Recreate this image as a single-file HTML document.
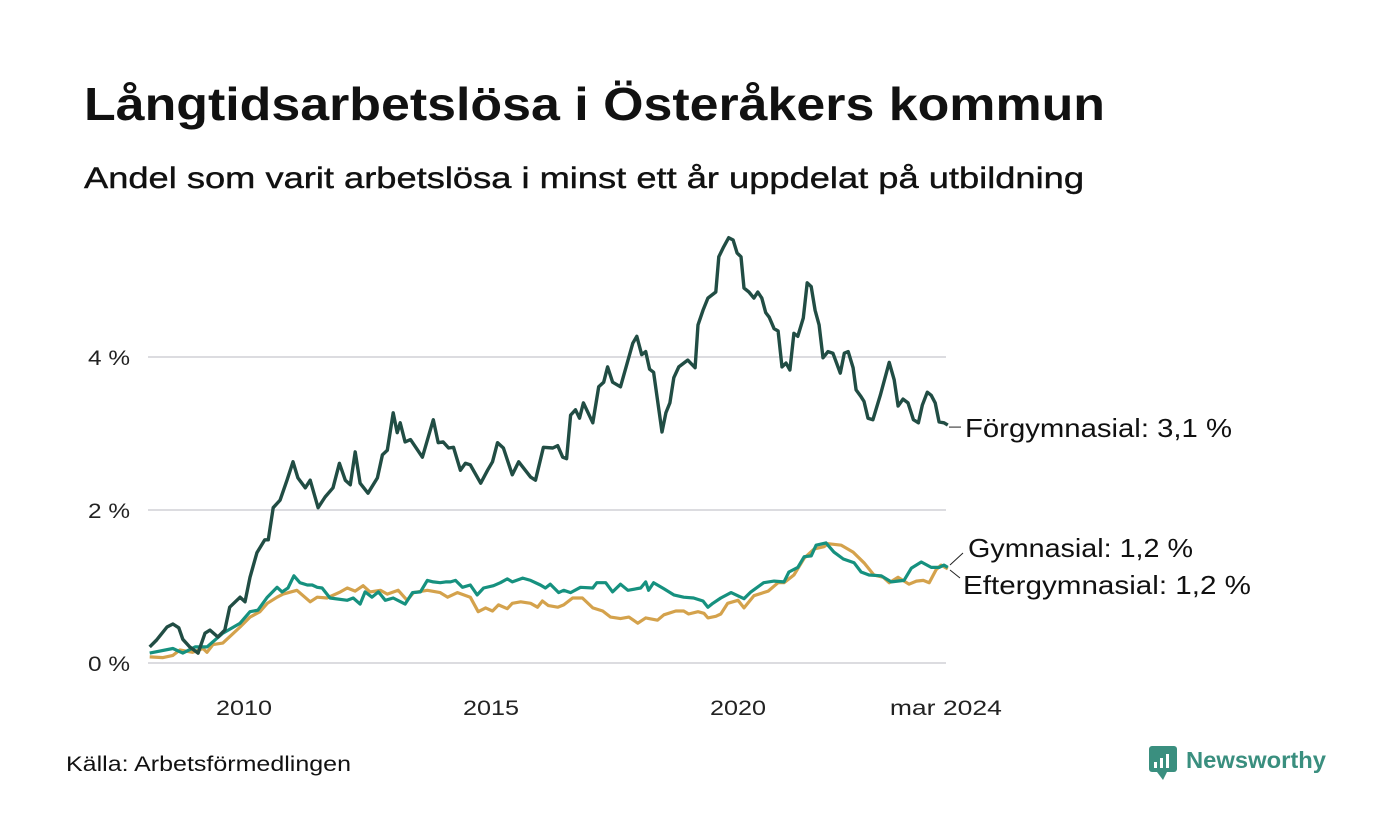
<!DOCTYPE html>
<html><head><meta charset="utf-8"><style>
html,body{margin:0;padding:0;background:#fff;}
svg{display:block;font-family:"Liberation Sans",sans-serif;}
</style></head><body>
<svg id="chart" width="1400" height="840" viewBox="0 0 1400 840">
<text x="84" y="120" font-size="46" font-weight="bold" fill="#111" textLength="1021" lengthAdjust="spacingAndGlyphs">Långtidsarbetslösa i Österåkers kommun</text>
<text x="84" y="188" font-size="30" fill="#111" stroke="#111" stroke-width="0.4" textLength="1000" lengthAdjust="spacingAndGlyphs">Andel som varit arbetslösa i minst ett år uppdelat på utbildning</text>
<g id="grid"></g>
<g id="yticks"></g>
<g id="xticks"></g>
<g id="lines"></g>
<g id="labels"></g>
<text x="66" y="771" font-size="21" fill="#111" textLength="285" lengthAdjust="spacingAndGlyphs">Källa: Arbetsförmedlingen</text>
<g>
<rect x="1149" y="746" width="28" height="26" rx="3" fill="#3a8f7f"/>
<path d="M1157 772 L1163 780 L1167 772 Z" fill="#3a8f7f"/>
<rect x="1154" y="762" width="3" height="6" fill="#fff"/><rect x="1160" y="758" width="3" height="10" fill="#fff"/><rect x="1166" y="754" width="3" height="14" fill="#fff"/>
<text x="1186" y="768" font-size="23" font-weight="bold" fill="#3a8f7f" textLength="140" lengthAdjust="spacingAndGlyphs">Newsworthy</text>
</g>
</svg>
<script>
const yTicks=[0,2,4];
const yTickLabels=["0 %","2 %","4 %"];
const xTicks=[2010,2015,2020,2024.167];
const xTickLabels=["2010","2015","2020","mar 2024"];
const forgDates=[2008.01,2008.15,2008.36,2008.48,2008.60,2008.68,2008.82,2008.99,2009.13,2009.23,2009.39,2009.53,2009.63,2009.84,2009.94,2010.04,2010.18,2010.34,2010.41,2010.51,2010.65,2010.79,2010.91,2011.01,2011.16,2011.26,2011.42,2011.56,2011.72,2011.85,2011.97,2012.07,2012.17,2012.27,2012.43,2012.62,2012.72,2012.82,2012.94,2013.02,2013.08,2013.18,2013.29,2013.53,2013.75,2013.85,2013.95,2014.06,2014.16,2014.30,2014.40,2014.50,2014.71,2014.85,2014.95,2015.05,2015.17,2015.35,2015.48,2015.72,2015.82,2015.98,2016.17,2016.27,2016.37,2016.45,2016.53,2016.63,2016.71,2016.79,2016.98,2017.10,2017.20,2017.28,2017.38,2017.54,2017.79,2017.87,2017.97,2018.05,2018.13,2018.21,2018.38,2018.46,2018.54,2018.62,2018.72,2018.90,2019.05,2019.11,2019.21,2019.31,2019.47,2019.53,2019.63,2019.73,2019.82,2019.90,2019.98,2020.04,2020.14,2020.24,2020.32,2020.40,2020.48,2020.55,2020.65,2020.73,2020.81,2020.89,2020.97,2021.05,2021.13,2021.24,2021.32,2021.40,2021.48,2021.56,2021.64,2021.74,2021.84,2021.99,2022.07,2022.15,2022.25,2022.31,2022.41,2022.47,2022.55,2022.65,2022.80,2022.98,2023.08,2023.16,2023.26,2023.36,2023.47,2023.57,2023.65,2023.75,2023.83,2023.91,2023.99,2024.09,2024.167];
const forgValues=[0.21,0.30,0.47,0.51,0.46,0.31,0.21,0.13,0.39,0.43,0.34,0.43,0.73,0.86,0.80,1.12,1.44,1.61,1.61,2.03,2.13,2.39,2.63,2.42,2.29,2.39,2.03,2.17,2.29,2.61,2.39,2.33,2.76,2.35,2.22,2.42,2.72,2.78,3.27,3.01,3.14,2.89,2.92,2.69,3.18,2.88,2.89,2.81,2.82,2.52,2.61,2.59,2.35,2.52,2.63,2.88,2.81,2.46,2.63,2.43,2.39,2.82,2.81,2.84,2.69,2.67,3.24,3.31,3.20,3.40,3.14,3.61,3.67,3.87,3.67,3.61,4.18,4.27,4.03,4.07,3.84,3.80,3.02,3.27,3.40,3.73,3.87,3.96,3.86,4.42,4.61,4.77,4.85,5.31,5.44,5.56,5.53,5.36,5.31,4.90,4.85,4.77,4.85,4.77,4.58,4.52,4.37,4.34,3.87,3.92,3.83,4.31,4.27,4.51,4.97,4.92,4.61,4.42,3.99,4.07,4.05,3.79,4.05,4.07,3.86,3.57,3.48,3.42,3.20,3.18,3.50,3.93,3.70,3.36,3.45,3.40,3.18,3.14,3.37,3.54,3.50,3.40,3.15,3.14,3.11];
const gymDates=[2008.01,2008.48,2008.68,2008.93,2009.17,2009.49,2009.84,2010.04,2010.20,2010.39,2010.59,2010.69,2010.81,2010.93,2011.05,2011.20,2011.30,2011.40,2011.50,2011.66,2012.01,2012.13,2012.27,2012.37,2012.51,2012.64,2012.78,2012.94,2013.18,2013.33,2013.49,2013.63,2013.75,2013.89,2014.00,2014.10,2014.20,2014.34,2014.50,2014.64,2014.77,2014.97,2015.11,2015.25,2015.35,2015.56,2015.72,2015.92,2016.02,2016.12,2016.29,2016.39,2016.53,2016.73,2016.98,2017.06,2017.24,2017.38,2017.54,2017.69,2017.95,2018.05,2018.11,2018.21,2018.42,2018.62,2018.82,2019.02,2019.21,2019.31,2019.41,2019.57,2019.78,2020.04,2020.18,2020.44,2020.65,2020.85,2020.95,2021.13,2021.26,2021.40,2021.50,2021.70,2021.86,2022.05,2022.27,2022.41,2022.57,2022.82,2023.02,2023.28,2023.43,2023.63,2023.83,2023.99,2024.09,2024.167];
const gymValues=[0.13,0.19,0.13,0.21,0.21,0.39,0.52,0.67,0.69,0.86,0.99,0.93,0.98,1.14,1.05,1.02,1.02,0.99,0.98,0.85,0.82,0.85,0.77,0.93,0.86,0.93,0.82,0.85,0.77,0.92,0.93,1.08,1.06,1.05,1.06,1.06,1.08,0.99,1.02,0.89,0.98,1.01,1.05,1.10,1.06,1.11,1.08,1.02,0.98,1.03,0.92,0.95,0.92,0.99,0.98,1.05,1.05,0.93,1.03,0.95,0.98,1.06,0.95,1.05,0.97,0.89,0.86,0.85,0.81,0.73,0.78,0.85,0.92,0.84,0.93,1.05,1.07,1.06,1.19,1.25,1.39,1.40,1.54,1.57,1.45,1.36,1.31,1.19,1.15,1.14,1.06,1.08,1.24,1.32,1.25,1.25,1.28,1.25];
const eftDates=[2008.01,2008.28,2008.48,2008.62,2008.88,2009.09,2009.17,2009.29,2009.49,2009.84,2010.04,2010.24,2010.39,2010.59,2010.71,2010.99,2011.26,2011.40,2011.60,2011.87,2012.01,2012.17,2012.33,2012.47,2012.68,2012.82,2013.04,2013.22,2013.35,2013.63,2013.89,2014.04,2014.24,2014.50,2014.66,2014.81,2014.95,2015.07,2015.25,2015.35,2015.52,2015.72,2015.86,2015.96,2016.08,2016.27,2016.39,2016.57,2016.77,2016.98,2017.18,2017.34,2017.54,2017.71,2017.89,2018.05,2018.29,2018.42,2018.66,2018.82,2018.92,2019.11,2019.23,2019.31,2019.47,2019.57,2019.71,2019.92,2020.04,2020.24,2020.53,2020.73,2020.85,2021.05,2021.26,2021.46,2021.66,2021.74,2022.01,2022.25,2022.47,2022.67,2022.86,2022.98,2023.16,2023.38,2023.53,2023.67,2023.79,2023.93,2024.03,2024.167];
const eftValues=[0.08,0.07,0.10,0.17,0.14,0.19,0.14,0.24,0.26,0.47,0.60,0.67,0.78,0.86,0.90,0.95,0.80,0.86,0.85,0.93,0.98,0.94,1.01,0.93,0.95,0.90,0.95,0.82,0.92,0.95,0.92,0.86,0.92,0.86,0.67,0.72,0.68,0.76,0.71,0.78,0.80,0.78,0.73,0.81,0.75,0.73,0.76,0.85,0.85,0.72,0.68,0.60,0.58,0.60,0.52,0.59,0.56,0.63,0.68,0.68,0.64,0.67,0.65,0.59,0.61,0.64,0.78,0.82,0.72,0.88,0.94,1.05,1.05,1.15,1.37,1.49,1.52,1.56,1.54,1.45,1.31,1.15,1.12,1.05,1.12,1.03,1.07,1.08,1.05,1.22,1.28,1.23];
const seriesNames=["Förgymnasial: 3,1 %","Gymnasial: 1,2 %","Eftergymnasial: 1,2 %"];

const NS="http://www.w3.org/2000/svg";
function xS(yr){return 248+(yr-2010)*49.4;}
function yS(v){return 663-v*76.5;}
function mk(tag,attrs,parent){const e=document.createElementNS(NS,tag);for(const k in attrs)e.setAttribute(k,attrs[k]);parent.appendChild(e);return e;}
const grid=document.getElementById('grid'),yt=document.getElementById('yticks'),xt=document.getElementById('xticks'),lines=document.getElementById('lines'),labels=document.getElementById('labels');
yTicks.forEach((t,i)=>{
  const l=mk('line',{x1:148,x2:946,y1:yS(t),y2:yS(t),stroke:'#dcdce0','stroke-width':2},grid);
  
  
  const tx=mk('text',{x:88,y:yS(t)+8,'font-size':21,fill:'#222',textLength:42,lengthAdjust:'spacingAndGlyphs'},yt);
  tx.textContent=yTickLabels[i];
  
  
});
xTicks.forEach((t,i)=>{
  const last=i===xTicks.length-1;
  const tx=mk('text',{x:xS(t)-(last?2:4),y:715,'font-size':21,fill:'#222','text-anchor':'middle',textLength:last?112:56,lengthAdjust:'spacingAndGlyphs'},xt);
  tx.textContent=xTickLabels[i];
  
  
});
function path(d,v){return d.map((yr,i)=>(i?'L':'M')+xS(yr).toFixed(1)+' '+yS(v[i]).toFixed(1)).join(' ');}
const p1=mk('path',{d:path(eftDates,eftValues),fill:'none',stroke:'#d4a24c','stroke-width':3.2,'stroke-linejoin':'round'},lines);


const p2=mk('path',{d:path(gymDates,gymValues),fill:'none',stroke:'#16917f','stroke-width':3.2,'stroke-linejoin':'round'},lines);


const p3=mk('path',{d:path(forgDates,forgValues),fill:'none',stroke:'#214d44','stroke-width':3.4,'stroke-linejoin':'round'},lines);


function label(txt,x,y,w,lx1,ly1,lx2,ly2,name){
  const l=mk('line',{x1:lx1,y1:ly1,x2:lx2,y2:ly2,stroke:'#222','stroke-width':1},labels);
  
  
  const t=mk('text',{x:x,y:y,'font-size':26,fill:'#111',textLength:w,lengthAdjust:'spacingAndGlyphs'},labels);
  t.textContent=txt;
  
  
}
const lastF=forgValues[forgValues.length-1];
label(seriesNames[0],965,yS(lastF)+12,267,949,yS(lastF)+2,961,yS(lastF)+2,'forgymnasial');
label(seriesNames[1],968,557,225,950,565,963,553,'gymnasial');
label(seriesNames[2],963,594,288,950,570,960,578,'eftergymnasial');
</script>
</body></html>
